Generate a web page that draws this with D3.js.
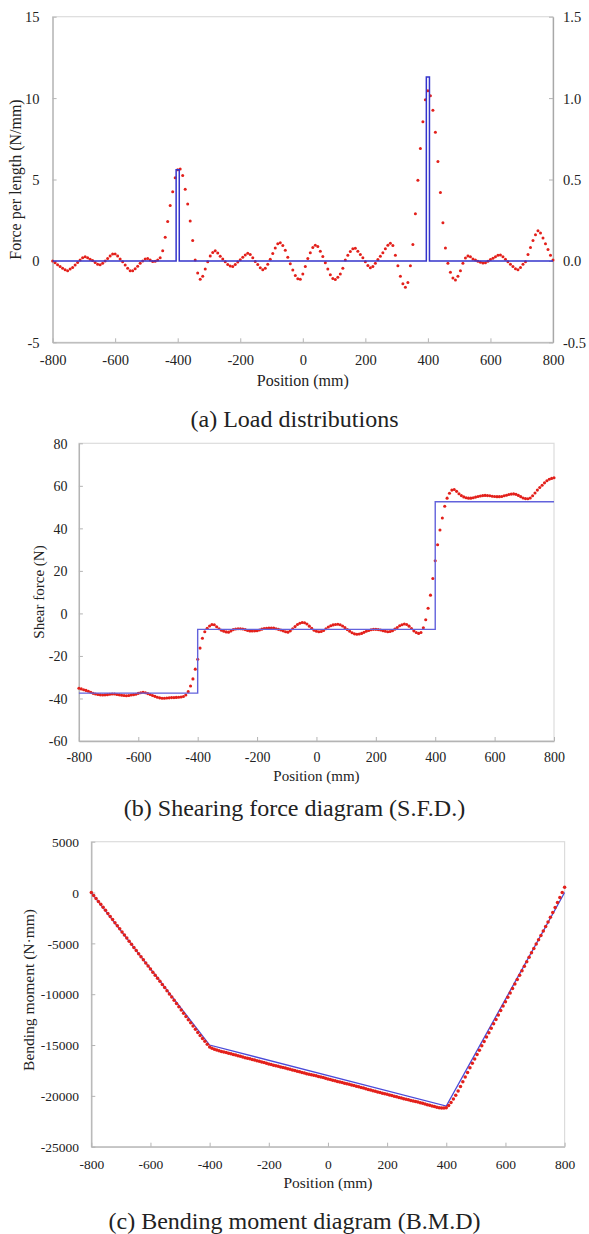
<!DOCTYPE html>
<html><head><meta charset="utf-8">
<script src="https://cdn.jsdelivr.net/npm/d3@7"></script>
<style>
body{margin:0;background:#fff}
svg{display:block}
text{font-family:"Liberation Serif","Times New Roman",serif;fill:#222}
</style>
</head><body>
<svg id="chart" width="589" height="1234"></svg>
<script>
// ---------- shared ----------
const positionTicks = [-800,-600,-400,-200,0,200,400,600,800];
const sampleStart = -800, sampleStep = 8;   // red measurement positions (mm)

// ---------- (a) load distribution ----------
const loadLeftTicks  = [-5,0,5,10,15];
const loadRightTicks = [-0.5,0,0.5,1.0,1.5];
const loadBlueX = [-800,-405,-405,-395,-395,395,395,405,405,800];
const loadBlueY = [0,0,5.6,5.6,0,0,11.3,11.3,0,0];
const loadRed = [
 0,-0.12,-0.23,-0.35,-0.45,-0.55,-0.6,-0.5,-0.4,-0.25,-0.1,0.05,0.2,0.26,0.2,0.1,0.02,-0.1,-0.2,-0.24,-0.15,0.0,0.15,0.3,0.42,
 0.43,0.3,0.12,-0.05,-0.25,-0.45,-0.6,-0.6,-0.48,-0.33,-0.15,0,0.12,0.14,0.05,-0.03,-0.02,0.05,0.2,0.63,1.45,2.42,3.4,4.25,5.1,
 5.6,5.65,5.25,4.4,3.5,2.45,1.25,0.06,-0.75,-1.12,-0.95,-0.5,-0.05,0.3,0.52,0.62,0.48,0.28,0.12,-0.05,-0.22,-0.32,-0.34,-0.22,-0.07,
 0.07,0.22,0.37,0.47,0.4,0.2,-0.03,-0.22,-0.42,-0.55,-0.45,-0.2,0.1,0.45,0.8,1.05,1.12,0.95,0.65,0.22,-0.18,-0.56,-0.9,-1.1,-1.12,
 -0.8,-0.35,0.15,0.5,0.82,0.96,0.88,0.6,0.27,-0.12,-0.5,-0.85,-1.08,-1.15,-1.0,-0.8,-0.45,0.05,0.35,0.58,0.74,0.78,0.6,0.4,0.2,
 -0.05,-0.28,-0.42,-0.35,-0.15,0.08,0.28,0.5,0.75,0.96,1.08,0.95,0.35,-0.3,-0.95,-1.4,-1.62,-1.32,-0.3,1.0,2.9,4.95,6.9,8.55,9.9,
 10.45,10.15,9.25,7.9,6.1,4.2,2.35,0.8,-0.15,-0.7,-1.05,-1.17,-0.95,-0.6,-0.15,0.18,0.3,0.25,0.12,0.05,-0.02,-0.08,-0.13,-0.12,-0.02,
 0.08,0.17,0.25,0.35,0.36,0.25,0.1,-0.05,-0.2,-0.35,-0.48,-0.55,-0.4,-0.2,-0.05,0.4,0.82,1.25,1.6,1.85,1.72,1.4,1.05,0.7,0.35,
 0.05
];

// ---------- (b) shearing force ----------
const shearTicks = [-60,-40,-20,0,20,40,60,80];
const shearBlueX = [-800,-400,-400,400,400,800];
const shearBlueY = [-37.5,-37.5,-7.5,-7.5,52.5,52.5];
const shearRed = [
 -35.2,-35.5,-35.9,-36.2,-36.6,-37.1,-37.6,-37.9,-38.1,-38.3,-38.4,-38.3,-38.2,-38.0,-37.9,-37.9,-38.1,-38.3,-38.5,-38.6,-38.7,-38.6,-38.4,-38.2,-38.0,
 -37.6,-37.3,-37.1,-37.3,-37.7,-38.1,-38.6,-39.0,-39.4,-39.7,-39.9,-39.9,-39.8,-39.7,-39.6,-39.6,-39.5,-39.4,-39.3,-39.1,-38.4,-36.8,-34.1,-30.8,-26.2,
 -21.6,-16.3,-11.7,-8.6,-7.0,-5.9,-5.2,-5.3,-6.3,-7.2,-7.9,-8.4,-8.7,-8.8,-8.3,-7.6,-7.3,-7.2,-7.2,-7.3,-7.6,-8.0,-8.3,-8.3,-8.2,
 -8.1,-7.8,-7.4,-7.1,-7.0,-6.9,-6.9,-6.9,-7.2,-7.5,-7.8,-8.2,-8.6,-8.8,-8.2,-7.2,-6.2,-5.2,-4.6,-4.3,-4.4,-5.0,-6.0,-7.0,-7.9,
 -8.4,-8.6,-8.5,-8.0,-7.2,-6.4,-5.8,-5.4,-5.2,-5.1,-5.3,-5.9,-6.7,-7.6,-8.4,-9.1,-9.6,-9.8,-9.7,-9.4,-8.9,-8.4,-8.0,-7.7,-7.5,
 -7.5,-7.6,-7.8,-8.1,-8.4,-8.6,-8.5,-8.1,-7.4,-6.6,-5.8,-5.3,-5.0,-5.2,-6.0,-7.1,-8.2,-9.0,-9.4,-9.0,-6.8,-3.0,2.4,8.6,16.4,
 24.8,32.3,39.2,44.9,50.4,54.2,56.5,58.0,58.3,57.4,56.3,55.4,54.8,54.4,54.2,54.2,54.4,54.7,55.0,55.2,55.4,55.5,55.4,55.3,55.1,
 55.0,54.9,54.9,55.0,55.3,55.6,55.9,56.1,56.2,56.0,55.5,54.9,54.3,54.0,53.9,54.3,55.3,56.6,58.0,59.2,60.3,61.4,62.4,63.1,63.5,
 63.8
];

// ---------- (c) bending moment ----------
const momentTicks = [-25000,-20000,-15000,-10000,-5000,0,5000];
const momentBlueX = [-800,-400,400,800];
const momentBlueY = [0,-15000,-21000,0];
const momentRed = [
 0,-290,-580,-870,-1160,-1450,-1750,-2050,-2355,-2658,-2960,-3265,-3570,-3872,-4176,-4480,-4785,-5092,-5400,-5705,-6010,-6315,-6620,-6925,-7228,
 -7530,-7830,-8130,-8432,-8735,-9040,-9348,-9658,-9970,-10285,-10600,-10918,-11236,-11554,-11872,-12190,-12505,-12820,-13135,-13448,-13755,-14058,-14350,-14635,-14915,
 -15200,
 -15320,-15420,-15500,-15570,-15635,-15690,-15745,-15800,-15858,-15920,
 -15985,-16050,-16115,-16180,-16240,-16298,-16355,-16413,-16473,-16535,
 -16598,-16662,-16726,-16790,-16854,-16917,-16979,-17039,-17097,-17154,
 -17210,-17267,-17325,-17385,-17447,-17510,-17575,-17640,-17703,-17762,
 -17818,-17872,-17925,-17977,-18030,-18085,-18142,-18202,-18265,-18330,
 -18395,-18460,-18523,-18583,-18640,-18696,-18752,-18808,-18865,-18923,
 -18983,-19045,-19108,-19172,-19237,-19302,-19367,-19431,-19494,-19556,
 -19617,-19677,-19736,-19794,-19852,-19910,-19970,-20030,-20092,-20154,
 -20216,-20277,-20336,-20393,-20449,-20504,-20559,-20614,-20672,-20733,
 -20797,-20863,-20930,-20995,-21055,-21110,-21160,-21190,-21190,-21170,
 -20942,-20656,-20320,-19939,-19521,-19078,-18621,-18156,-17693,-17238,
 -16797,-16363,-15933,-15505,-15078,-14650,-14220,-13788,-13353,-12917,
 -12480,-12043,-11607,-11171,-10738,-10304,-9872,-9438,-9004,-8566,
 -8126,-7685,-7242,-6800,-6360,-5925,-5494,-5068,-4643,-4216,
 -3784,-3343,-2892,-2429,-1958,-1477,-989,-493,7,510
];

const svg = d3.select("#chart");
const hy = v => String(v).replace("\u2212","-");
const serif = '"Liberation Serif","Times New Roman",serif';

function panel(cfg){
  const g = svg.append("g");
  const x = d3.scaleLinear().domain([-800,800]).range([cfg.left,cfg.right]);
  const y = d3.scaleLinear().domain(cfg.yDomain).range([cfg.bottom,cfg.top]);
  g.append("rect").attr("x",cfg.left).attr("y",cfg.top)
    .attr("width",cfg.right-cfg.left).attr("height",cfg.bottom-cfg.top)
    .attr("fill","none").attr("stroke","#dcdcdc").attr("stroke-width",1.2);
  const axCol = "#b4b4b4";
  const xa = g.append("g").attr("transform",`translate(0,${cfg.bottom})`)
    .call(d3.axisBottom(x).tickValues(positionTicks).tickSizeInner(-4).tickSizeOuter(0).tickFormat(d=>hy(d)));
  xa.select(".domain").attr("stroke",axCol).attr("stroke-width",1.3);
  xa.selectAll(".tick line").attr("stroke",axCol);
  xa.selectAll(".tick text").attr("y",cfg.xLabelDy).attr("dy","0.35em").attr("font-size",cfg.tickFs).attr("fill","#222");
  const ya = g.append("g").attr("transform",`translate(${cfg.left},0)`)
    .call(d3.axisLeft(y).tickValues(cfg.yTicks).tickSizeInner(-4).tickSizeOuter(0).tickFormat(d=>hy(d)));
  ya.select(".domain").attr("stroke",axCol).attr("stroke-width",1.3);
  ya.selectAll(".tick line").attr("stroke",axCol);
  ya.selectAll(".tick text").attr("x",-cfg.yLabelGap).attr("dy","0.35em").attr("font-size",cfg.tickFs).attr("fill","#222");
  if(cfg.rightDomain){
    const yr = d3.scaleLinear().domain(cfg.rightDomain).range([cfg.bottom,cfg.top]);
    const ra = g.append("g").attr("transform",`translate(${cfg.right},0)`)
      .call(d3.axisRight(yr).tickValues(cfg.rightTicks).tickSizeInner(-4).tickSizeOuter(0).tickFormat(d=>hy(d.toFixed(1))));
    ra.select(".domain").attr("stroke","#a8a8a8").attr("stroke-width",1.3);
    ra.selectAll(".tick line").attr("stroke",axCol);
    ra.selectAll(".tick text").attr("x",10).attr("dy","0.35em").attr("font-size",cfg.tickFs).attr("fill","#222");
  }
  g.selectAll(".tick text").style("font-family",serif);
  g.append("text").attr("x",(cfg.left+cfg.right)/2).attr("y",cfg.xTitleY).attr("dy","0.35em")
    .attr("text-anchor","middle").attr("font-size",cfg.titleFs).text("Position (mm)");
  g.append("text").attr("transform",`translate(${cfg.yTitleX},${cfg.yTitleY}) rotate(-90)`).attr("dy","0.35em")
    .attr("text-anchor","middle").attr("font-size",cfg.titleFs).text(cfg.yTitle);
  g.append("text").attr("x",294.5).attr("y",cfg.captionY).attr("dy","0.35em")
    .attr("text-anchor","middle").attr("font-size",24).text(cfg.caption);

  const blueData = cfg.blueX.map((v,i)=>[v,cfg.blueY[i]]);
  const redData = cfg.red.map((v,i)=>[sampleStart+i*sampleStep, v]);
  const line = d3.line().x(d=>x(d[0])).y(d=>y(d[1]));
  const drawBlue = () => g.append("path").datum(blueData).attr("d",line)
      .attr("fill","none").attr("stroke",cfg.blueCol).attr("stroke-width",cfg.blueW);
  const drawRed = () => g.append("g").selectAll("circle").data(redData).join("circle")
      .attr("cx",d=>x(d[0])).attr("cy",d=>y(d[1])).attr("r",cfg.dotR).attr("fill","#e3201b");
  if(cfg.blueOnTop){ drawRed(); drawBlue(); } else { drawBlue(); drawRed(); }
}

panel({left:52.6,right:553,top:16.7,bottom:342.3,yDomain:[-5,15],yTicks:loadLeftTicks,
  rightDomain:[-0.5,1.5],rightTicks:loadRightTicks,
  xLabelDy:17.7,yLabelGap:13,tickFs:14.5,titleFs:16,xTitleY:380.7,yTitleX:15,yTitleY:179.5,
  yTitle:"Force per length (N/mm)",caption:"(a) Load distributions",captionY:418.3,
  blueX:loadBlueX,blueY:loadBlueY,red:loadRed,blueCol:"#3434cc",blueW:1.5,dotR:1.5,blueOnTop:true});

panel({left:78.9,right:554,top:443.3,bottom:741,yDomain:[-60,80],yTicks:shearTicks,
  xLabelDy:15.7,yLabelGap:11.5,tickFs:14,titleFs:15,xTitleY:776,yTitleX:38.5,yTitleY:592,
  yTitle:"Shear force (N)",caption:"(b) Shearing force diagram (S.F.D.)",captionY:808,
  blueX:shearBlueX,blueY:shearBlueY,red:shearRed,blueCol:"#6262dc",blueW:1.4,dotR:1.55,blueOnTop:true});

panel({left:91.3,right:564.6,top:841.7,bottom:1146.7,yDomain:[-25000,5000],yTicks:momentTicks,
  xLabelDy:17.3,yLabelGap:12.4,tickFs:13.5,titleFs:15.5,xTitleY:1183,yTitleX:29,yTitleY:990,
  yTitle:"Bending moment (N\u00b7mm)",caption:"(c) Bending moment diagram (B.M.D)",captionY:1220.7,
  blueX:momentBlueX,blueY:momentBlueY,red:momentRed,blueCol:"#4a4ad8",blueW:1.3,dotR:1.75,blueOnTop:false});
</script>
</body></html>
